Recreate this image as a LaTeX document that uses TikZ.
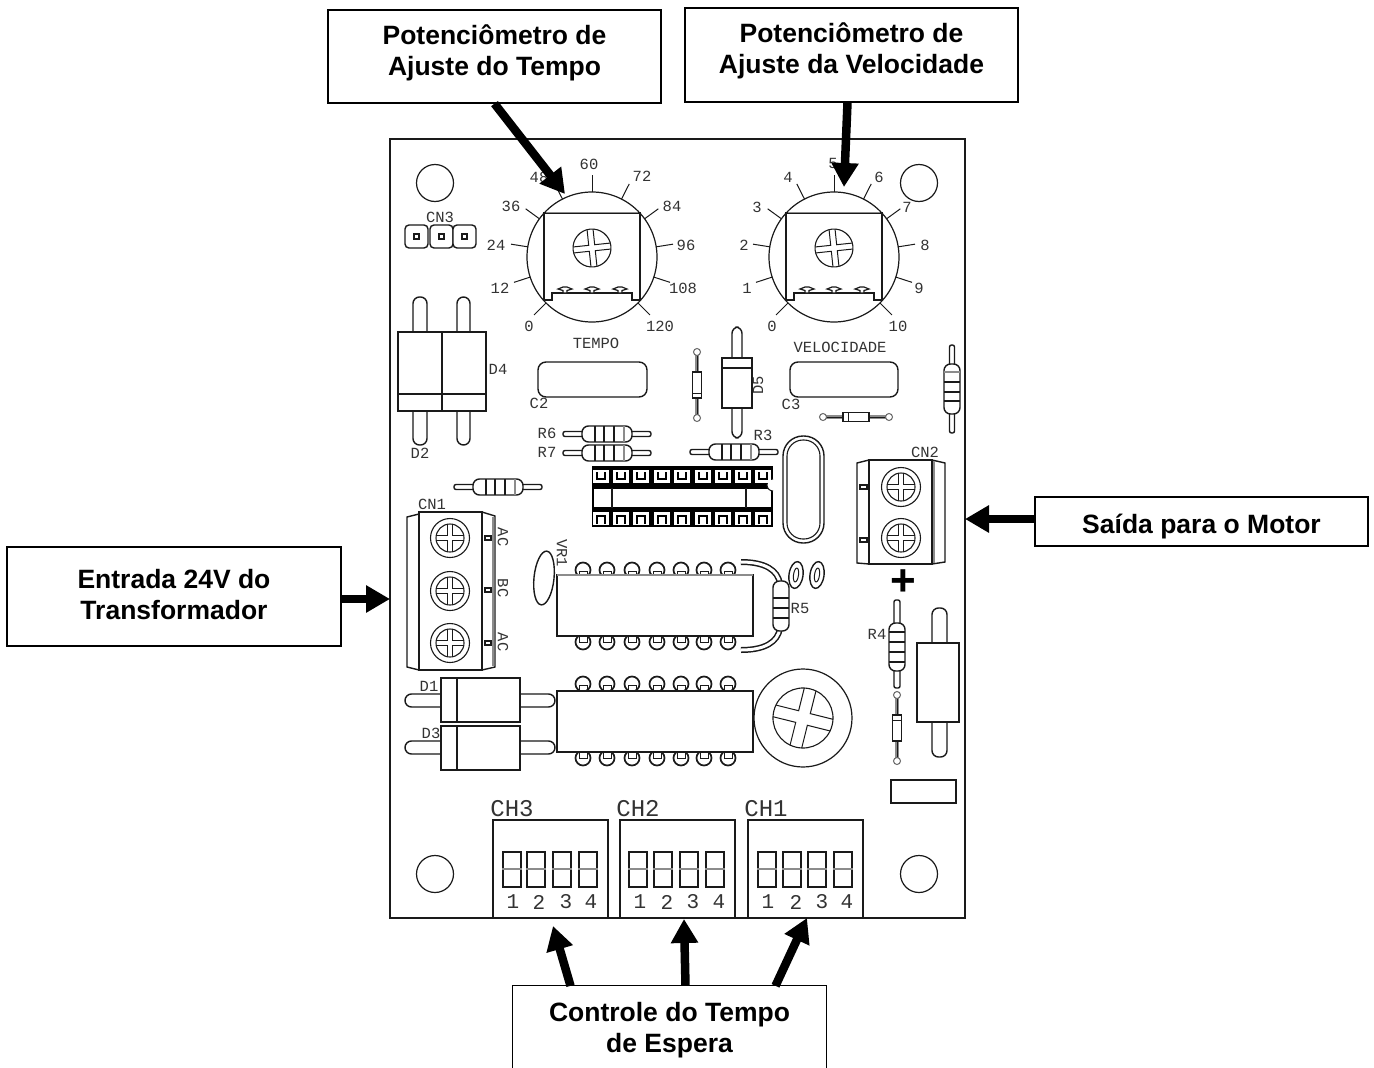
\documentclass[tikz,border=0pt]{standalone}
\usepackage{fontspec}
\setmainfont{Liberation Sans}
\newfontfamily\cadfont{Liberation Mono}
\usetikzlibrary{arrows.meta}
\definecolor{ink}{HTML}{1A1A1A}
\definecolor{cadtext}{HTML}{333333}
\tikzset{
  pcb/.style={draw=ink,line width=1.4pt,fill=white},
  pcbline/.style={draw=ink,line width=1.4pt},
  softline/.style={draw=black!45,line width=1.6pt},
  fineline/.style={draw=ink,line width=1pt},
  lbl/.style={text=cadtext,inner sep=0pt,font=\cadfont\fontsize{15.5}{16}\selectfont},
  bigl/.style={text=cadtext,inner sep=0pt,font=\cadfont\fontsize{24}{24}\selectfont},
  dipl/.style={text=cadtext,inner sep=0pt,font=\cadfont\fontsize{21}{22}\selectfont},
  callout/.style={draw=black,line width=1.3pt,fill=white,inner sep=0pt},
  calltext/.style={inner sep=0pt,align=center,font=\fontsize{26.5}{31}\selectfont\bfseries},
  pointer/.style={line width=8.5pt,black,-{Triangle[length=24pt,width=26pt]}},
}
% small helpers -------------------------------------------------------
\newcommand{\crossmark}[5]{% x y R w rot
  \begin{scope}[shift={(#1,#2)},rotate=#5]
    \pgfmathsetmacro\rrr{sqrt(#3*#3-#4*#4)}
    \draw[pcb,line width=1.1pt] (0,0) circle[radius=#3];
    \foreach \q in {0,90,180,270}{\draw[fineline,rotate=\q] (#4,\rrr) -- (#4,#4) -- (\rrr,#4);}
  \end{scope}}
\newcommand{\termscrew}[2]{%
  \draw[pcb,line width=1.1pt] (#1,#2) circle[radius=19.5];
  \crossmark{#1}{#2}{14}{2.6}{0}}
\newcommand{\vlead}[4]{% x1 x2 ybase ytip
  \draw[pcbline,rounded corners=6.5pt,fill=white] (#1,#3) -- (#1,#4) -- (#2,#4) -- (#2,#3);}
\newcommand{\hlead}[4]{% y1 y2 xbase xtip
  \draw[pcbline,rounded corners=6.5pt,fill=white] (#3,#1) -- (#4,#1) -- (#4,#2) -- (#3,#2);}
\newcommand{\resistor}[3]{% x y rot (horizontal at 0)
  \begin{scope}[shift={(#1,#2)},rotate=#3]
    \draw[pcb,rounded corners=2pt] (-44,-2.5) rectangle (44,2.5);
    \draw[pcb,rounded corners=6.5pt] (-25,-8) rectangle (25,8);
    \foreach \b in {-12,-3,7}{\draw[pcbline] (\b,-8) -- (\b,8);}
    \draw[softline] (17,-8) -- (17,8);
  \end{scope}}
\newcommand{\smalldiode}[3]{% x y rot : horizontal, pads at +-33
  \begin{scope}[shift={(#1,#2)},rotate=#3]
    \draw[softline,line width=3.4pt] (-33,0) -- (33,0);
    \draw[pcbline,line width=1pt] (-33,0) -- (33,0);
    \draw[pcb,line width=1pt,draw=black!60] (-33,0) circle[radius=3.5];
    \draw[pcb,line width=1pt,draw=black!60] (33,0) circle[radius=3.5];
    \draw[pcb] (-13,-4.5) rectangle (13,4.5);
    \draw[pcbline,line width=1pt] (-8,-4.5) -- (-8,4.5);
  \end{scope}}
\newcommand{\potmeter}[2]{% cx cy
  \begin{scope}[shift={(#1,#2)}]
    \draw[pcb,line width=1.2pt] (0,0) circle[radius=65];
    \foreach \a in {225,198,171,144,117,90,63,36,9,-18,-45}{
      \draw[pcbline,line width=1pt] ({65*cos(\a)},{-65*sin(\a)}) -- ({82*cos(\a)},{-82*sin(\a)});}
    \draw[pcb] (-48,-44) -- (48,-44) -- (48,43) -- (40,43) -- (40,36) -- (-40,36) -- (-40,43) -- (-48,43) -- cycle;
    \draw[softline,line width=1pt] (-46,-45) -- (46,-45);
    \crossmark{0}{-9}{19}{3}{6}
    \foreach \p in {-27,0,28}{
      \draw[pcbline,line width=1.2pt,fill=white] (\p-7,32) -- (\p-2,30) -- (\p+2,30) -- (\p+7,32) -- (\p+2,33.5) -- (\p+2,36) -- (\p-2,36) -- (\p-2,33.5) -- cycle;}
  \end{scope}}
\newcommand{\icpins}[2]{% ytopcentre ybottomcentre
  \foreach \x in {583,607,632,657,681,704,728}{
    \draw[pcb,line width=1.7pt] (\x,#1) circle[radius=7.5];
    \draw[pcbline,line width=1pt] (\x-4,#1+9) -- (\x-4,#1+1) -- (\x+4,#1+1) -- (\x+4,#1+9);
    \draw[pcb,line width=1.7pt] (\x,#2) circle[radius=7.5];
    \draw[pcbline,line width=1pt] (\x-4,#2-9) -- (\x-4,#2) -- (\x+4,#2) -- (\x+4,#2-9);}}
\newcommand{\dipswitch}[2]{% list x/dx/txt
  \foreach \sx/\dx/\t in {#1}{
    \draw[pcb] (\sx,852) rectangle ++(18,35);
    \draw[softline,line width=1.2pt] (\sx-1,869) -- (\sx+19,869);
    \node[dipl] (dip#2\t) at (\dx,902) {\t};}}
\begin{document}
\begin{tikzpicture}[x=1pt,y=-1pt]
\useasboundingbox (0,0) rectangle (1374,1068);
\fill[white] (0,0) rectangle (1374,1068);
% board
\draw[draw=ink,line width=1.8pt] (390,139) rectangle (965,918);
\foreach \hx/\hy in {435/183,919/183,435/874,919/874}{
  \draw[pcb,line width=1.2pt] (\hx,\hy) circle[radius=18.5];}
% CN3
\node[lbl] (cn3) at (440,217) {CN3};
\foreach \px in {405,430,453}{
  \draw[pcb,rounded corners=4pt] (\px,225) rectangle ++(23,23);
  \draw[pcbline,line width=1.1pt] (\px+9,234) rectangle ++(5,5);}
% pots
\potmeter{592}{257}
\potmeter{834}{257}
\foreach \lx/\ly/\t in {529/326/0,500/288/12,496/245/24,511/206/36,539/177/48,589/164/60,642/176/72,672/206/84,686/245/96,683/288/108,660/326/120}{
  \node[lbl] (tp\t) at (\lx,\ly) {\t};}
\foreach \lx/\ly/\t in {772/326/0,747/288/1,744/245/2,757/207/3,788/177/4,833/163/5,879/177/6,907/207/7,925/245/8,919/288/9,898/326/10}{
  \node[lbl] (vl\t) at (\lx,\ly) {\t};}
\node[lbl] (tempo) at (596,343) {TEMPO};
\node[lbl] (velocidade) at (840,347) {VELOCIDADE};
% D4 / D2
\vlead{413}{427}{335}{297}
\vlead{457}{470}{335}{297}
\vlead{413}{427}{408}{445}
\vlead{457}{470}{408}{445}
\draw[pcb] (398,332) rectangle (486,411);
\draw[pcbline] (442,332) -- (442,411) (398,394) -- (486,394);
\node[lbl] (d4) at (498,369) {D4};
\node[lbl] (d2) at (420,453) {D2};
% C2 C3
\draw[pcb,rounded corners=8pt] (538,362) rectangle (647,397);
\node[lbl] (c2) at (539,403) {C2};
\draw[pcb,rounded corners=8pt] (790,362) rectangle (898,397);
\node[lbl] (c3) at (791,404) {C3};
% small diodes
\smalldiode{697}{385}{90}
\smalldiode{856}{417}{0}
\smalldiode{897}{728}{-90}
% D5
\vlead{732}{742}{360}{327}
\vlead{732}{742}{406}{438}
\draw[pcb] (722,358) rectangle (752,408);
\draw[pcbline] (722,368) -- (752,368);
\node[lbl,rotate=90] (d5) at (758,385) {D5};
% resistors
\resistor{952}{389}{90}
\resistor{607}{434}{0}
\resistor{607}{453}{0}
\resistor{498}{487}{0}
\resistor{734}{452}{0}
\node[lbl] (r6) at (547,433) {R6};
\node[lbl] (r7) at (547,452) {R7};
\node[lbl] (r3) at (763,435) {R3};
% socket
\fill[black] (592,466) rectangle (773,527);
\fill[white] (594,489) rectangle (771,507);
\draw[pcbline,line width=1.2pt] (612,488) -- (612,508) (746,488) -- (746,508);
\draw[pcb,line width=1pt] (773,491) arc[start angle=90,end angle=270,radius=6];
\foreach \x in {601,621,641,662,682,703,723,743,763}{
  \fill[white] (\x-8,470) rectangle (\x+8,483);
  \draw[black,line width=1.1pt] (\x-4,472) -- (\x-4,479) -- (\x+4,479) -- (\x+4,472);
  \fill[white] (\x-8,512) rectangle (\x+8,525);
  \draw[black,line width=1.1pt] (\x-4,524) -- (\x-4,516) -- (\x+4,516) -- (\x+4,524);}
% crystal
\draw[pcb,rounded corners=20pt] (783,436) rectangle (824,543);
\draw[pcbline,line width=1.1pt,rounded corners=16pt] (787,440) rectangle (820,539);
% CN1
\draw[pcb] (419,514) -- (407,517) -- (407,667) -- (419,670) -- cycle;
\draw[pcb] (482,512) -- (495,516) -- (495,667) -- (482,670) -- cycle;
\draw[softline] (493,517) -- (493,666);
\draw[pcb] (419,512) rectangle (482,670);
\termscrew{450}{538}
\termscrew{450}{591}
\termscrew{450}{643}
\foreach \ty in {538,590,643}{\draw[pcbline,line width=1.1pt] (485,\ty-2) rectangle (491,\ty+2);}
\node[lbl,rotate=-90] (ac1) at (503,537) {AC};
\node[lbl,rotate=-90] (bc) at (503,588) {BC};
\node[lbl,rotate=-90] (ac2) at (503,642) {AC};
\node[lbl] (cn1) at (432,504) {CN1};
% CN2
\draw[pcb] (869,460) -- (857,463) -- (857,563) -- (869,564) -- cycle;
\draw[pcb] (932,460) -- (945,463) -- (945,562) -- (932,564) -- cycle;
\draw[softline] (934,461) -- (934,563);
\draw[pcb] (869,460) rectangle (932,564);
\termscrew{901}{487}
\termscrew{901}{538}
\foreach \ty in {487,540}{\draw[pcbline,line width=1.1pt] (860,\ty-2) rectangle (867,\ty+2);}
\node[lbl] (cn2) at (925,452) {CN2};
% plus
\node[inner sep=0pt,font=\fontsize{44}{44}\selectfont\bfseries] (plus) at (903,583) {+};
% IC1
\draw[pcb,rotate around={-6:(544,578)}] (544,578) ellipse[x radius=10,y radius=27];
\icpins{570}{642}
\draw[pcb] (557,575) rectangle (753,636);
\draw[softline,line width=1.4pt] (557,575) -- (753,575);
\node[lbl,rotate=-90] (vr1) at (562,553) {VR1};
% R5
\draw[ink,line width=6pt] (741,562) .. controls (765,562) and (778,570) .. (780,584);
\draw[white,line width=3pt] (741,562) .. controls (765,562) and (778,570) .. (780,584);
\draw[ink,line width=6pt] (741,650) .. controls (765,650) and (778,642) .. (780,628);
\draw[white,line width=3pt] (741,650) .. controls (765,650) and (778,642) .. (780,628);
\begin{scope}[shift={(781,606)},rotate=90]
  \draw[pcb,rounded corners=6.5pt] (-25,-8) rectangle (25,8);
  \foreach \b in {-12,-2,8}{\draw[pcbline] (\b,-8) -- (\b,8);}
\end{scope}
\node[lbl] (r5) at (800,608) {R5};
\foreach \ox in {796,817}{
  \draw[pcb,rotate around={-8:(\ox,575)}] (\ox,575) ellipse[x radius=7,y radius=13.5];
  \draw[pcb,line width=1pt,rotate around={-8:(\ox,575)}] (\ox,575) ellipse[x radius=2.5,y radius=7];}
% R4
\draw[pcb,rounded corners=2pt] (894,600) rectangle (900,688);
\draw[pcb,rounded corners=6.5pt] (889,623) rectangle (905,671);
\foreach \b in {632,642,652,662}{\draw[pcbline] (889,\b) -- (905,\b);}
\node[lbl] (r4) at (877,634) {R4};
% right diode
\vlead{932}{947}{645}{608}
\vlead{932}{947}{720}{757}
\draw[pcb] (917,643) rectangle (959,722);
\draw[pcb] (891,780) rectangle (956,803);
% trimmer
\draw[pcb,line width=1.2pt] (803,718) circle[radius=49];
\crossmark{803}{718}{30}{6}{-14}
% IC2
\icpins{684}{758}
\draw[pcb] (557,691) rectangle (753,752);
% D1 D3
\hlead{694}{707}{443}{405}
\hlead{694}{707}{518}{555}
\draw[pcb] (441,678) rectangle (520,722);
\draw[pcbline] (457,678) -- (457,722);
\hlead{741}{754}{443}{405}
\hlead{741}{754}{518}{555}
\draw[pcb] (441,726) rectangle (520,770);
\draw[pcbline] (457,726) -- (457,770);
\node[lbl] (d1) at (429,686) {D1};
\node[lbl] (d3) at (431,733) {D3};
% DIP switches
\draw[pcb] (493,820) rectangle (608,918);
\draw[pcb] (620,820) rectangle (735,918);
\draw[pcb] (748,820) rectangle (863,918);
\node[bigl] (ch3) at (512,809) {CH3};
\node[bigl] (ch2) at (638,809) {CH2};
\node[bigl] (ch1) at (766,809) {CH1};
\dipswitch{503/513/1,527/539/2,553/566/3,579/591/4}{a}
\dipswitch{629/640/1,654/667/2,680/693/3,706/719/4}{b}
\dipswitch{758/768/1,783/796/2,808/822/3,834/847/4}{c}
% callouts
\node[callout,minimum width=333pt,minimum height=93pt] (box1) at (494.5,56.5) {};
\node[callout,minimum width=333pt,minimum height=94pt] (box2) at (851.5,55) {};
\node[callout,minimum width=333pt,minimum height=49pt] (box3) at (1201.5,521.5) {};
\node[callout,minimum width=334pt,minimum height=99pt] (box4) at (174,596.5) {};
\node[fill=white,inner sep=0pt,minimum width=313pt,minimum height=82pt] (box5) at (669.5,1027) {};
\draw[black,line width=1.3pt] (box5.south west) -- (box5.north west) -- (box5.north east) -- (box5.south east);
\node[calltext] (txt1) at (494.5,52.5) {Potenciômetro de\\Ajuste do Tempo};
\node[calltext] (txt2) at (851.5,51) {Potenciômetro de\\Ajuste da Velocidade};
\node[calltext] (txt3) at (1201.5,527) {Saída para o Motor};
\node[calltext] (txt4) at (174,595) {Entrada 24V do\\Transformador};
\node[calltext] (txt5) at (669.5,1030) {Controle do Tempo\\de Espera};
% targets
\coordinate (tipTempo) at (565,194);
\coordinate (tipVel) at (844,187);
\coordinate (tipMotor) at (965,519);
\coordinate (tipEntrada) at (390,599);
\coordinate (tipCh3) at (553,926);
\coordinate (tipCh2) at (684,919);
\coordinate (tipCh1) at (807,918);
% arrows
\draw[pointer] (box1.south) -- (tipTempo);
\draw[pointer] ([xshift=-4pt]box2.south) -- (tipVel);
\draw[pointer] ([yshift=2.5pt]box3.west) -- (tipMotor);
\draw[pointer] ([yshift=-2.5pt]box4.east) -- (tipEntrada);
\draw[pointer] ([xshift=-99pt]box5.north) -- (tipCh3);
\draw[pointer] ([xshift=16pt]box5.north) -- (tipCh2);
\draw[pointer] ([xshift=106pt]box5.north) -- (tipCh1);
\end{tikzpicture}
\end{document}
